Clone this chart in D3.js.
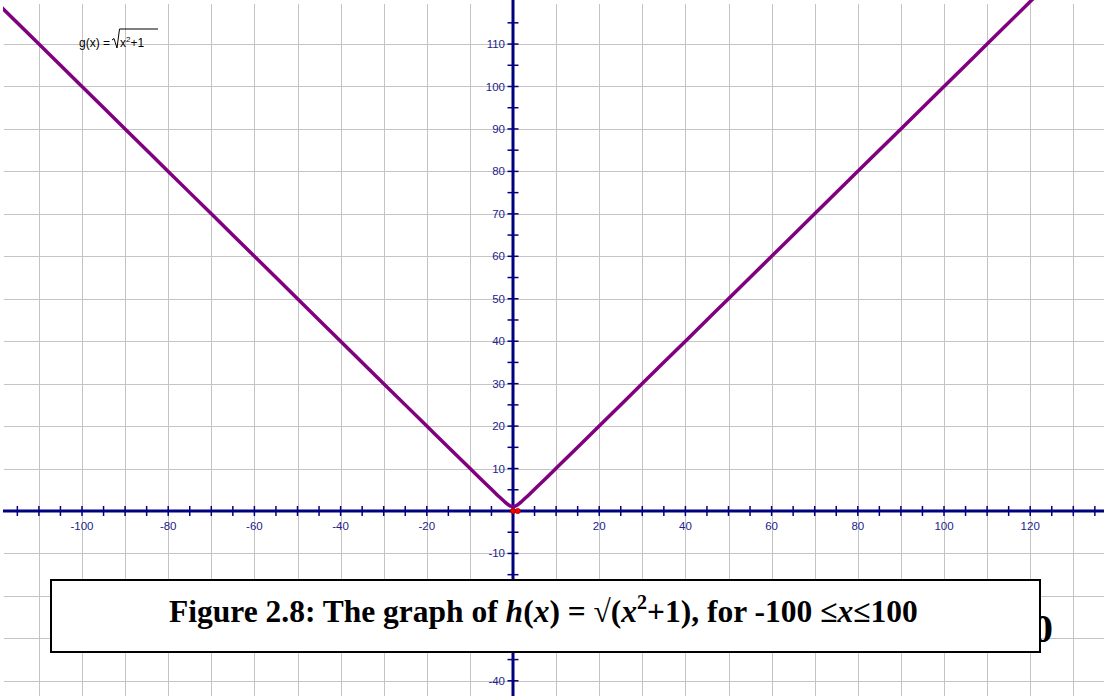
<!DOCTYPE html>
<html lang="en">
<head>
<meta charset="utf-8">
<title>h(x) = sqrt(x^2+1)</title>
<script src="https://d3js.org/d3.v7.min.js"></script>
<style>
  body { margin: 0; background: #fff; }
  .grid line { stroke: #c4c4c4; stroke-width: 1px; shape-rendering: crispEdges; }
  .axis-line { stroke: #000080; stroke-width: 3px; }
  .tick-mark { stroke: #000080; stroke-width: 1.5px; }
  .tick-label { font-family: "Liberation Sans", Arial, sans-serif; font-size: 11.5px; fill: #22228a; }
  .curve { fill: none; stroke: #800080; stroke-width: 3.5px; stroke-linejoin: round; }
</style>
</head>
<body>
<script>
// values
const curveX = [-122, -110, -100, -90, -80, -70, -60, -50, -40, -30, -20, -15, -10, -7, -5, -4, -3, -2, -1.5, -1, -0.5, 0,
                0.5, 1, 1.5, 2, 3, 4, 5, 7, 10, 15, 20, 30, 40, 50, 60, 70, 80, 90, 100, 110, 122];
const curveY = [122.0, 110.0, 100.0, 90.0, 80.0, 70.0, 60.0, 50.0, 40.0, 30.0, 20.0, 15.0, 10.05, 7.07, 5.1, 4.12, 3.16, 2.24, 1.8, 1.41, 1.12, 1.0,
                1.12, 1.41, 1.8, 2.24, 3.16, 4.12, 5.1, 7.07, 10.05, 15.03, 20.02, 30.02, 40.01, 50.01, 60.01, 70.01, 80.01, 90.01, 100.0, 110.0, 122.0];
const redPoints = [[0, 0], [1.1, 0]];
const xLabels = [-100, -80, -60, -40, -20, 20, 40, 60, 80, 100, 120];
const yLabels = [110, 100, 90, 80, 70, 60, 50, 40, 30, 20, 10, -10, -40];   // -20, -30 sit behind the caption box
const xGrid = d3.range(-110, 140, 10);
const yGrid = d3.range(-40, 120, 10);
const xMinor = d3.range(-115, 140, 5).filter(d => d !== 0);
const yMinor = d3.range(-45, 120, 5).filter(d => d !== 0);

const W = 1104, H = 696;
const ox = 513, oy = 511, kx = 4.31, ky = 4.245;

const x = d3.scaleLinear().domain([-120, 140]).range([ox - 120 * kx, ox + 140 * kx]);
const y = d3.scaleLinear().domain([-45, 120]).range([oy + 45 * ky, oy - 120 * ky]);

const svg = d3.select("body").append("svg")
  .attr("width", W).attr("height", H);

// grid
const grid = svg.append("g").attr("class", "grid");
grid.selectAll(".gx").data(xGrid).join("line")
  .attr("x1", d => Math.round(x(d)) + 0.5).attr("x2", d => Math.round(x(d)) + 0.5)
  .attr("y1", 4).attr("y2", H);
grid.selectAll(".gy").data(yGrid).join("line")
  .attr("y1", d => Math.round(y(d)) + 0.5).attr("y2", d => Math.round(y(d)) + 0.5)
  .attr("x1", 4).attr("x2", W);

// axes
svg.append("line").attr("class", "axis-line")
  .attr("x1", 3).attr("x2", W).attr("y1", y(0)).attr("y2", y(0));
svg.append("line").attr("class", "axis-line")
  .attr("x1", x(0)).attr("x2", x(0)).attr("y1", 0).attr("y2", H);

svg.selectAll(".xt").data(xMinor).join("line").attr("class", "tick-mark")
  .attr("x1", d => x(d)).attr("x2", d => x(d))
  .attr("y1", y(0) - 5).attr("y2", y(0) + 5);
svg.selectAll(".yt").data(yMinor).join("line").attr("class", "tick-mark")
  .attr("y1", d => y(d)).attr("y2", d => y(d))
  .attr("x1", x(0) - 5.5).attr("x2", x(0) + 5.5);

svg.selectAll(".xl").data(xLabels).join("text").attr("class", "tick-label")
  .attr("x", d => x(d)).attr("y", y(0) + 19)
  .attr("text-anchor", "middle").text(d => d);
svg.selectAll(".yl").data(yLabels).join("text").attr("class", "tick-label")
  .attr("x", x(0) - 8).attr("y", d => y(d) + 4)
  .attr("text-anchor", "end").text(d => d);

// curve
svg.append("clipPath").attr("id", "plot")
  .append("rect").attr("x", 3).attr("y", 0).attr("width", W - 3).attr("height", H);

const line = d3.line()
  .curve(d3.curveMonotoneX)
  .x((d, i) => x(curveX[i]))
  .y(d => y(d));

svg.append("path")
  .datum(curveY)
  .attr("class", "curve")
  .attr("clip-path", "url(#plot)")
  .attr("d", line);

svg.selectAll(".pt").data(redPoints).join("circle")
  .attr("cx", d => x(d[0])).attr("cy", d => y(d[1])).attr("r", 2.6)
  .attr("fill", "#ff0000").attr("stroke", "#a00000").attr("stroke-width", 0.8);

// function label
const lab = svg.append("g").attr("font-family", "Liberation Sans, Arial, sans-serif").attr("font-size", 12);
lab.append("text").attr("x", 79).attr("y", 47).text("g(x) =");
lab.append("path").attr("d", "M112,40 L114,38.5 L117,48 L119.5,29 L158,29")
  .attr("fill", "none").attr("stroke", "#000").attr("stroke-width", 1);
const sq = lab.append("text").attr("x", 120).attr("y", 47);
sq.append("tspan").text("x");
sq.append("tspan").attr("dy", -5).attr("font-size", 8).text("2");
sq.append("tspan").attr("dy", 5).text("+1");

// caption (with text peeking out behind the box)
svg.append("text").attr("x", 1053).attr("y", 642)
  .attr("text-anchor", "end")
  .attr("font-family", "Liberation Serif, Times New Roman, serif")
  .attr("font-weight", "bold").attr("font-size", 41).text("100");

svg.append("rect").attr("x", 51).attr("y", 580).attr("width", 989).attr("height", 72)
  .attr("fill", "#fff").attr("stroke", "#000").attr("stroke-width", 2);

const cap = svg.append("text").attr("x", 169).attr("y", 622)
  .attr("font-family", "Liberation Serif, Times New Roman, serif")
  .attr("font-weight", "bold").attr("font-size", 31.5);
cap.append("tspan").text("Figure 2.8: The graph of ");
cap.append("tspan").attr("font-style", "italic").text("h");
cap.append("tspan").text("(");
cap.append("tspan").attr("font-style", "italic").text("x");
cap.append("tspan").text(") = \u221A(");
cap.append("tspan").attr("font-style", "italic").text("x");
cap.append("tspan").attr("dy", -13).attr("font-size", 20).text("2");
cap.append("tspan").attr("dy", 13).text("+1), for -100 \u2264");
cap.append("tspan").attr("font-style", "italic").text("x");
cap.append("tspan").text("\u2264100");
</script>
</body>
</html>
